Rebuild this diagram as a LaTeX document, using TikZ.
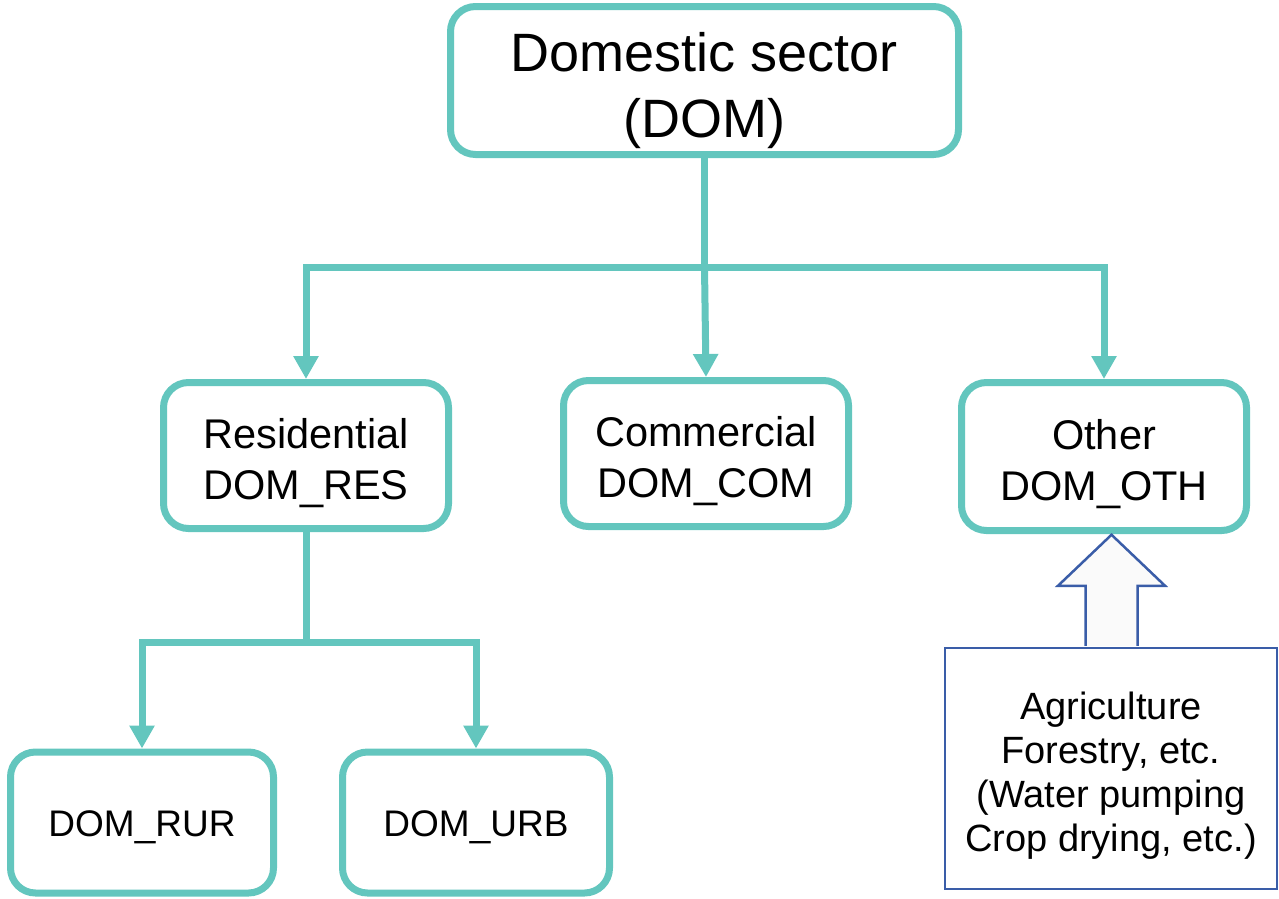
\documentclass[tikz,border=0pt]{standalone}
\usepackage{fontspec}
\setmainfont{Liberation Sans}
\usetikzlibrary{arrows.meta}
\definecolor{teal1}{HTML}{63C6BE}
\definecolor{blue1}{HTML}{3A5DA8}
\newcommand{\upz}[1]{\rule{0pt}{#1}}
\tikzset{
  tbox/.style={draw=teal1, line width=7pt, rounded corners=25pt, fill=white, align=center, inner sep=0pt},
  conn/.style={draw=teal1, line width=7pt},
  arr/.style={conn, -{Triangle[width=24pt,length=23pt]}},
  bigtxt/.style={font=\fontsize{54}{66}\selectfont},
  midtxt/.style={font=\fontsize{41.5}{51}\selectfont},
  lowtxt/.style={font=\fontsize{37}{44}\selectfont},
  agtxt/.style={font=\fontsize{38}{44}\selectfont},
}
\begin{document}
\begin{tikzpicture}[x=1pt,y=-1pt]
\useasboundingbox (0,0) rectangle (1279,898);
\node[tbox, bigtxt, minimum width=508pt, minimum height=148pt] (top) at (704.5,80.5) {\upz{60pt}Domestic sector\\(DOM)};
\node[tbox, midtxt, minimum width=285pt, minimum height=146pt] (res) at (306,455.5) {\upz{46pt}Residential\\DOM\_RES};
\node[tbox, midtxt, minimum width=285pt, minimum height=146pt] (com) at (706,453.5) {\upz{46pt}Commercial\\DOM\_COM};
\node[tbox, midtxt, minimum width=285pt, minimum height=148pt] (oth) at (1104,456.5) {\upz{46pt}Other\\DOM\_OTH};
\node[tbox, lowtxt, minimum width=263pt, minimum height=141pt] (rur) at (142,822.5) {\upz{36pt}DOM\_RUR};
\node[tbox, lowtxt, minimum width=267pt, minimum height=141pt] (urb) at (476,822.5) {\upz{36pt}DOM\_URB};
\node[draw=blue1, line width=2.5pt, agtxt, align=center, inner sep=0pt, minimum width=332pt, minimum height=241pt] (agr) at (1111,768.5) {\upz{41pt}Agriculture\\Forestry, etc.\\(Water pumping\\Crop drying, etc.)};
% connectors from top
\draw[conn] (top.south) -- ++(0,109) coordinate (j1);
\draw[conn] (j1 -| res.north) -- (j1 -| oth.north);
\draw[arr] (j1) -| (res.north);
\draw[arr] (j1) -- (com.north);
\draw[arr] (j1) -| (oth.north);
% connectors from residential
\draw[conn] (res.south) -- ++(0,110) coordinate (j2);
\draw[conn] (j2 -| rur.north) -- (j2 -| urb.north);
\draw[arr] (j2) -| (rur.north);
\draw[arr] (j2) -| (urb.north);
% hollow block arrow
\draw[draw=blue1, line width=2.5pt, fill=white!98!black, line join=miter]
  (agr.north) ++(-25.5,-1) -- ++(0,-60) -- ++(-27.5,0) -- ++(53.5,-51) -- ++(53.5,51) -- ++(-27.5,0) -- ++(0,60);
\end{tikzpicture}
\end{document}
